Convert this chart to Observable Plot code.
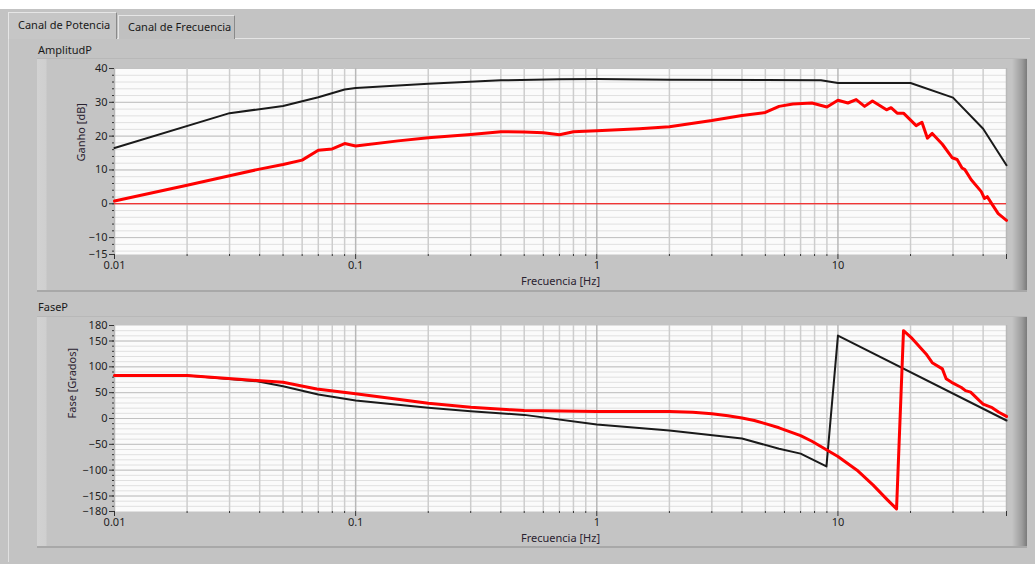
<!DOCTYPE html>
<html>
<head>
<meta charset="utf-8">
<script src="https://cdn.jsdelivr.net/npm/d3@7"></script>
<script src="https://cdn.jsdelivr.net/npm/@observablehq/plot@0.6"></script>
<style>
  html, body { margin: 0; padding: 0; background: #ffffff; width: 1035px; height: 567px; overflow: hidden; font-family: "Noto Sans", "Open Sans", sans-serif; }
  #bg { position: absolute; left: 0; top: 9px; width: 1035px; height: 555px; background: #c3c3c3; }
  .tab { position: absolute; font-size: 11px; color: #1a1a1a; box-sizing: border-box; border-top: 1px solid #e6e6e6; border-left: 1px solid #e6e6e6; border-right: 1px solid #8a8a8a; line-height: 22px; padding-left: 9px; }
  #tab1 { left: 8px; top: 12px; width: 109px; height: 27px; background: #c6c6c6; z-index: 2; padding-top: 1px; }
  #tab2 { left: 118px; top: 15px; width: 117px; height: 24px; background: #c0c0c0; }
  #panel { position: absolute; left: 8px; top: 38px; width: 1022px; height: 524px; border-top: 1px solid #e4e4e4; border-left: 1px solid #e0e0e0; box-sizing: border-box; }
  .frame { position: absolute; left: 37px; width: 990px; box-sizing: border-box; background: linear-gradient(to right, #d2d2d2 0px, #cfcfcf 9px, #c4c4c4 10px, #c4c4c4 975px, #9c9c9c 985px, #7a7a7a 990px); border-bottom: 2px solid #a8a8a8; border-top: 1px solid #b8b8b8; }
  #frame1 { top: 58px; height: 234px; }
  #frame2 { top: 316px; height: 232px; }
  .title { position: absolute; left: 38px; font-size: 11px; color: #1a1a1a; }
  #t1 { top: 42px; }
  #t2 { top: 299px; }
  .chart { position: absolute; left: 0; }
  #c1 { top: 58px; }
  #c2 { top: 316px; }
</style>
</head>
<body>
<div id="bg"></div>
<div id="panel"></div>
<div class="tab" id="tab1">Canal de Potencia</div>
<div class="tab" id="tab2">Canal de Frecuencia</div>
<div class="frame" id="frame1"></div>
<div class="frame" id="frame2"></div>
<div class="title" id="t1">AmplitudP</div>
<div class="title" id="t2">FaseP</div>
<div class="chart" id="c1"></div>
<div class="chart" id="c2"></div>
<script>
// ---- Data ----
// Amplitude, black (reference) curve
const ampRefFreq = [0.01, 0.03, 0.05, 0.07, 0.09, 0.1, 0.2, 0.4, 0.7, 1, 2, 5, 8.5, 10, 20, 30, 40, 50];
const ampRefGain = [16.5, 26.8, 28.9, 31.5, 33.8, 34.2, 35.5, 36.5, 36.8, 36.9, 36.7, 36.6, 36.5, 35.7, 35.7, 31.4, 22.2, 11.4];
// Amplitude, red (measured) curve
const ampMeasFreq = [0.01, 0.02, 0.03, 0.039, 0.05, 0.06, 0.07, 0.08, 0.09, 0.1, 0.15, 0.2, 0.3, 0.4, 0.5, 0.6, 0.7, 0.8, 1, 1.5, 2, 3, 4, 5, 5.7, 6.5, 7.8, 9, 10, 11, 11.9, 12.9, 13.9, 15.9, 16.6, 17.6, 18.7, 21.1, 22.3, 23.5, 24.6, 27.1, 29.8, 31.2, 32.7, 33.6, 35.7, 39.3, 40.5, 41.6, 43.8, 46.2, 50];
const ampMeasGain = [0.8, 5.5, 8.3, 10.1, 11.6, 12.9, 15.8, 16.2, 17.8, 17.1, 18.6, 19.5, 20.5, 21.3, 21.2, 21.0, 20.4, 21.3, 21.6, 22.2, 22.8, 24.6, 26.1, 27.0, 28.8, 29.5, 29.8, 28.6, 30.6, 29.8, 30.8, 28.8, 30.4, 27.8, 28.4, 26.8, 26.8, 23.1, 24.1, 19.4, 20.8, 17.6, 13.6, 13.1, 10.6, 10.1, 7.1, 3.6, 1.6, 2.1, -0.4, -2.9, -4.9];
// Phase, black (reference) curve
const phaseRefFreq = [0.01, 0.02, 0.039, 0.05, 0.07, 0.1, 0.2, 0.3, 0.5, 1, 2, 4, 5.7, 7, 8.96, 10, 50];
const phaseRefDeg = [83, 83, 72, 62.5, 46.4, 34.8, 20.7, 14.2, 7, -11.6, -23, -38.7, -58.6, -68, -92.8, 160.5, -3.9];
// Phase, red (measured) curve
const phaseMeasFreq = [0.01, 0.02, 0.039, 0.05, 0.069, 0.1, 0.2, 0.3, 0.44, 0.5, 1, 2, 2.5, 3, 3.5, 4, 4.5, 5, 5.7, 7, 7.8, 10, 12, 14, 16, 17.5, 18.7, 20.3, 23.2, 24.6, 27.1, 28.1, 29.6, 32.5, 33.8, 35.5, 38.5, 40, 43.6, 46.5, 50];
const phaseMeasDeg = [83, 83, 73.5, 70, 57, 47.7, 29.6, 21.9, 16.8, 15.5, 13.5, 13.5, 12, 9, 5.5, 1, -4, -10, -18, -33, -44, -73.5, -100, -129, -157, -175, 170, 155, 125, 108, 96, 77, 70, 60, 54, 51, 35, 28, 21, 12, 4];

// ---- Ticks ----
const xTicks = [0.01, 0.1, 1, 10, 50];
const xTickLabels = ["0.01", "0.1", "1", "10", "50"];
const xMinor = [0.02, 0.03, 0.04, 0.05, 0.06, 0.07, 0.08, 0.09, 0.2, 0.3, 0.4, 0.5, 0.6, 0.7, 0.8, 0.9, 2, 3, 4, 5, 6, 7, 8, 9, 20, 30, 40];
const ampTicks = [40, 30, 20, 10, 0, -10, -15];
const ampMajorGrid = [40, 30, 20, 10, 0, -10];
const ampMinor = d3.range(-14, 40, 2);
const phaseTicks = [180, 150, 100, 50, 0, -50, -100, -150, -180];
const phaseMajorGrid = [150, 100, 50, 0, -50, -100, -150];
const phaseMinor = d3.range(-170, 180, 10);

const toRows = (fs, vs) => fs.map((f, i) => ({f, v: vs[i]}));
const FONT = '"Noto Sans", "Open Sans", sans-serif';

function bode({yDomain, yTicks, yMajorGrid, yMinor, yLabel, labelDx, series, zeroLine, height, marginTop, marginBottom}) {
  const marks = [
    Plot.frame({fill: "#fbfbfb", stroke: null}),
    Plot.gridY(yMinor, {stroke: "#e0e0e0", strokeOpacity: 1}),
    Plot.gridY(yMajorGrid, {stroke: "#c2c2c2", strokeOpacity: 1}),
    Plot.gridX(xMinor, {stroke: "#cdcdcd", strokeOpacity: 1, strokeWidth: 1.5}),
    Plot.gridX(xTicks, {stroke: "#b8b8b8", strokeOpacity: 1, strokeWidth: 1.5}),
  ];
  if (zeroLine) marks.push(Plot.ruleY([0], {stroke: "#ff0000", strokeWidth: 1}));
  for (const s of series) {
    marks.push(Plot.line(s.rows, {x: "f", y: "v", stroke: s.color, strokeWidth: s.width, strokeLinejoin: "round"}));
  }
  marks.push(
    Plot.axisX(xTicks, {tickSize: 5, tickPadding: 2, tickFormat: (d) => xTickLabels[xTicks.indexOf(d)], label: null, fill: "#1e1e1e", stroke: "#333"}),
    Plot.axisX(xMinor, {tickSize: 2, tickFormat: () => "", label: null, stroke: "#333"}),
    Plot.axisY(yTicks, {tickSize: 5, tickPadding: 2, label: null, fill: "#1e1e1e", stroke: "#333"}),
    Plot.axisY(yMinor, {tickSize: 2, tickFormat: () => "", label: null, stroke: "#333"}),
    Plot.text(["Frecuencia [Hz]"], {frameAnchor: "bottom", dy: 30, fill: "#2a2230", fontSize: 11}),
    Plot.text([yLabel], {frameAnchor: "left", rotate: -90, dx: labelDx, fill: "#2a2230", fontSize: 11})
  );
  return Plot.plot({
    width: 1035, height, marginLeft: 114, marginRight: 29, marginTop, marginBottom,
    x: {type: "log", domain: [0.01, 50]},
    y: {domain: yDomain},
    style: {background: "transparent", fontFamily: FONT, fontSize: "11px", color: "#1e1e1e", overflow: "visible"},
    marks
  });
}

document.getElementById("c1").append(bode({
  yDomain: [-15, 40], yTicks: ampTicks, yMajorGrid: ampMajorGrid, yMinor: ampMinor,
  yLabel: "Ganho [dB]", labelDx: -33, zeroLine: true,
  height: 234, marginTop: 10, marginBottom: 38,
  series: [
    {rows: toRows(ampRefFreq, ampRefGain), color: "#1a1a1a", width: 2},
    {rows: toRows(ampMeasFreq, ampMeasGain), color: "#ff0000", width: 3}
  ]
}));

document.getElementById("c2").append(bode({
  yDomain: [-180, 180], yTicks: phaseTicks, yMajorGrid: phaseMajorGrid, yMinor: phaseMinor,
  yLabel: "Fase [Grados]", labelDx: -42, zeroLine: false,
  height: 232, marginTop: 9, marginBottom: 37,
  series: [
    {rows: toRows(phaseRefFreq, phaseRefDeg), color: "#1a1a1a", width: 2},
    {rows: toRows(phaseMeasFreq, phaseMeasDeg), color: "#ff0000", width: 3}
  ]
}));
</script>
</body>
</html>
